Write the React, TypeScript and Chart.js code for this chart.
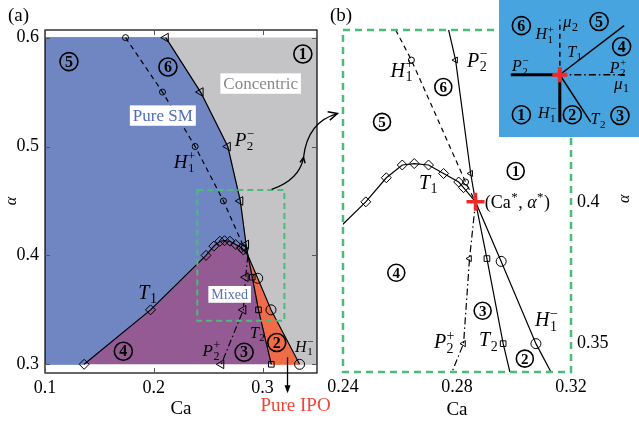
import React, { useEffect, useRef } from 'react';
import { Chart, registerables } from 'chart.js';
Chart.register(...registerables);

type Pt = [number, number];

// ---------- axis ranges / ticks ----------
const CA_MIN_A = 0.1, CA_MAX_A = 0.35, AL_MIN_A = 0.292, AL_MAX_A = 0.607;
const REG_CA_MIN = 0.1, REG_CA_MAX = 0.35, REG_AL_MIN = 0.3, REG_AL_MAX = 0.6;
const CA_TICKS_A = [0.1, 0.2, 0.3];
const AL_TICKS_A = [0.3, 0.4, 0.5, 0.6];
const CA_MIN_B = 0.24, CA_MAX_B = 0.32, AL_MIN_B = 0.34, AL_MAX_B = 0.4606;
const CA_TICKS_B = [0.24, 0.28, 0.32];
const AL_TICKS_B = [0.35, 0.4];

// ---------- bifurcation curves (Ca, alpha) ----------
const CRIT: Pt = [0.2865, 0.4];
const T1: Pt[] = [[0.136, 0.3], [0.197, 0.35], [0.248, 0.4], [0.2552, 0.4085], [0.2608, 0.413], [0.265, 0.4135], [0.27, 0.413], [0.2753, 0.41], [0.2806, 0.407], [0.2823, 0.405], [0.2865, 0.4]];
const H1_PLUS: Pt[] = [[0.174, 0.6], [0.208, 0.55], [0.238, 0.5], [0.264, 0.45], [0.283, 0.407], [0.2865, 0.4]];
const P2_MINUS: Pt[] = [[0.211, 0.6], [0.243, 0.55], [0.268, 0.5], [0.2795, 0.45], [0.2848, 0.41], [0.2865, 0.4]];
const P2_PLUS: Pt[] = [[0.2865, 0.4], [0.2844, 0.38], [0.2823, 0.35], [0.262, 0.3]];
const T2: Pt[] = [[0.2865, 0.4], [0.2905, 0.38], [0.2962, 0.35], [0.308, 0.3]];
const H1_MINUS: Pt[] = [[0.2865, 0.4], [0.2955, 0.379], [0.3077, 0.35], [0.334, 0.3]];

// ---------- inset normal form (mu1, mu2) ----------
const IN_MU1_MIN = -59, IN_MU1_MAX = 81, IN_MU2_MIN = -61, IN_MU2_MAX = 76;
const IN_ORIGIN: Pt = [0, 0];
const IN_H1_PLUS: Pt[] = [[0, 0], [0, 66]];
const IN_P2_MINUS: Pt[] = [[-59, 0], [0, 0]];
const IN_P2_PLUS: Pt[] = [[0, 0], [81, 0]];
const IN_T1: Pt[] = [[0, 0], [77, 59]];
const IN_H1_MINUS: Pt[] = [[0, 0], [0, -57]];
const IN_T2: Pt[] = [[0, 0], [37, -57]];

// ---------- colours ----------
const C_BLUE = '#6f86c3';
const C_GRAY = '#c4c3c5';
const C_PURPLE = '#935a93';
const C_ORANGE = '#f06c48';
const C_INSET = '#47a4de';
const C_GREEN = '#4dbb78';
const C_RED = '#f02a2a';
const SERIF = '"Liberation Serif", "DejaVu Serif", serif';

Chart.defaults.font.family = SERIF;
Chart.defaults.color = '#000';

type Part = [string, string, string?];
type MathLabel = { parts: Part[]; x: number; y: number; size: number; align?: 'left' | 'center' };
type Circ = { n: string; x: number; y: number };

const H1P: Part[] = [['i', 'H'], ['ss', '1', '+']];
const H1M: Part[] = [['i', 'H'], ['ss', '1', '\u2212']];
const P2P: Part[] = [['i', 'P'], ['ss', '2', '+']];
const P2M: Part[] = [['i', 'P'], ['ss', '2', '\u2212']];
const T1L: Part[] = [['i', 'T'], ['sub', '1']];
const T2L: Part[] = [['i', 'T'], ['sub', '2']];

// annotation placement (data units of each panel)
const A_CIRC: Circ[] = [
  { n: '5', x: 0.122, y: 0.578 }, { n: '6', x: 0.213, y: 0.573 }, { n: '1', x: 0.337, y: 0.585 },
  { n: '4', x: 0.172, y: 0.312 }, { n: '3', x: 0.283, y: 0.311 }, { n: '2', x: 0.313, y: 0.32 },
];
const A_MATH: MathLabel[] = [
  { parts: T1L, x: 0.1945, y: 0.366, size: 20 },
  { parts: H1P, x: 0.2284, y: 0.4862, size: 19 },
  { parts: P2M, x: 0.2835, y: 0.5064, size: 19 },
  { parts: P2P, x: 0.2532, y: 0.3128, size: 17 },
  { parts: T2L, x: 0.2954, y: 0.3294, size: 16 },
  { parts: H1M, x: 0.3385, y: 0.3165, size: 16 },
];
const B_CIRC: Circ[] = [
  { n: '5', x: 0.2537, y: 0.4282 }, { n: '6', x: 0.2752, y: 0.4405 }, { n: '1', x: 0.3006, y: 0.4109 },
  { n: '4', x: 0.2587, y: 0.375 }, { n: '3', x: 0.289, y: 0.3616 }, { n: '2', x: 0.3038, y: 0.3447 },
];
const B_MATH: MathLabel[] = [
  { parts: H1P, x: 0.2608, y: 0.4465, size: 20 },
  { parts: P2M, x: 0.2872, y: 0.45, size: 20 },
  { parts: T1L, x: 0.27, y: 0.407, size: 20 },
  { parts: [['n', '(Ca'], ['sup', '*'], ['n', ', '], ['i', '\u03b1'], ['sup', '*'], ['n', ')']], x: 0.2897, y: 0.4, size: 18, align: 'left' },
  { parts: P2P, x: 0.2756, y: 0.3507, size: 20 },
  { parts: T2L, x: 0.2911, y: 0.3514, size: 20 },
  { parts: H1M, x: 0.3115, y: 0.3585, size: 20 },
];
const IN_CIRC: Circ[] = [
  { n: '6', x: -46, y: 59 }, { n: '5', x: 47, y: 64 }, { n: '4', x: 74, y: 34 },
  { n: '1', x: -46, y: -48 }, { n: '2', x: 15, y: -48 }, { n: '3', x: 72, y: -49 },
];
const IN_MATH: MathLabel[] = [
  { parts: H1P, x: -18, y: 49, size: 16 },
  { parts: [['i', '\u03bc'], ['sub', '2']], x: 13, y: 64, size: 17 },
  { parts: T1L, x: 18, y: 28, size: 16 },
  { parts: P2P, x: 70, y: 9, size: 16 },
  { parts: [['i', '\u03bc'], ['sub', '1']], x: 74, y: -10, size: 17 },
  { parts: P2M, x: -47, y: 11, size: 16 },
  { parts: H1M, x: -15, y: -46, size: 16 },
  { parts: T2L, x: 46, y: -53, size: 16 },
];

// ---------- helpers ----------
const xy = (a: Pt[]) => a.map(([x, y]) => ({ x, y }));
const fmt = (v: any) => String(Number(Number(v).toFixed(3)));

function drawMath(ctx: CanvasRenderingContext2D, x: number, y: number, parts: Part[], size: number, align: 'left' | 'center' = 'center', color = '#000') {
  const small = Math.round(size * 0.7);
  const fontOf = (k: string) => (k === 'i' ? `italic ${size}px ${SERIF}` : k === 'n' ? `${size}px ${SERIF}` : `${small}px ${SERIF}`);
  const widths = parts.map(([k, a, b]) => {
    ctx.font = fontOf(k);
    const w = ctx.measureText(a).width;
    const w2 = b ? ctx.measureText(b).width : 0;
    return k === 'n' || k === 'i' ? w : Math.max(w, w2) + 1;
  });
  const total = widths.reduce((s, w) => s + w, 0);
  let cx = align === 'center' ? x - total / 2 : x;
  const base = y + size * 0.33;
  ctx.save();
  ctx.fillStyle = color;
  ctx.textAlign = 'left';
  ctx.textBaseline = 'alphabetic';
  parts.forEach(([k, a, b], i) => {
    ctx.font = fontOf(k);
    if (k === 'n' || k === 'i') ctx.fillText(a, cx, base);
    else if (k === 'sup') ctx.fillText(a, cx + 0.5, base - size * 0.4);
    else if (k === 'sub') ctx.fillText(a, cx + 0.5, base + size * 0.22);
    else {
      ctx.fillText(a, cx + 0.5, base + size * 0.24);
      if (b) ctx.fillText(b, cx + 0.5, base - size * 0.42);
    }
    cx += widths[i];
  });
  ctx.restore();
}

function circled(ctx: CanvasRenderingContext2D, x: number, y: number, n: string, r: number) {
  ctx.save();
  ctx.beginPath();
  ctx.arc(x, y, r, 0, Math.PI * 2);
  ctx.lineWidth = 1.6;
  ctx.strokeStyle = '#000';
  ctx.stroke();
  ctx.font = `bold ${Math.round(r * 1.75)}px ${SERIF}`;
  ctx.textAlign = 'center';
  ctx.textBaseline = 'middle';
  ctx.fillStyle = '#000';
  ctx.fillText(n, x, y + 1);
  ctx.restore();
}

function boxed(ctx: CanvasRenderingContext2D, x: number, y: number, text: string, size: number, color: string) {
  ctx.save();
  ctx.font = `${size}px ${SERIF}`;
  const w = ctx.measureText(text).width;
  ctx.fillStyle = '#fff';
  ctx.fillRect(x - w / 2 - 3, y - size * 0.6, w + 6, size * 1.2);
  ctx.fillStyle = color;
  ctx.textAlign = 'center';
  ctx.textBaseline = 'middle';
  ctx.fillText(text, x, y + 1);
  ctx.restore();
}

function arrowHead(ctx: CanvasRenderingContext2D, x0: number, y0: number, x1: number, y1: number, len: number) {
  const ang = Math.atan2(y1 - y0, x1 - x0);
  ctx.beginPath();
  ctx.moveTo(x1 - len * Math.cos(ang - 0.45), y1 - len * Math.sin(ang - 0.45));
  ctx.lineTo(x1, y1);
  ctx.lineTo(x1 - len * Math.cos(ang + 0.45), y1 - len * Math.sin(ang + 0.45));
  ctx.stroke();
}

function alphaTitle(ctx: CanvasRenderingContext2D, x: number, y: number) {
  ctx.save();
  ctx.translate(x, y);
  ctx.rotate(-Math.PI / 2);
  ctx.font = `italic 16px ${SERIF}`;
  ctx.textAlign = 'center';
  ctx.textBaseline = 'middle';
  ctx.fillStyle = '#000';
  ctx.fillText('\u03b1', 0, 0);
  ctx.restore();
}

type Opt = { dash?: number[]; style?: any; r?: number; rot?: number; skip?: number[]; width?: number; color?: string };
function curve(data: Pt[], o: Opt) {
  const skip = o.skip || [];
  const r = o.r || 0;
  return {
    data: xy(data),
    showLine: true,
    fill: false,
    borderColor: o.color || '#000',
    borderWidth: o.width || 1.2,
    borderDash: o.dash || [],
    backgroundColor: 'rgba(0,0,0,0)',
    pointBackgroundColor: 'rgba(0,0,0,0)',
    pointBorderColor: '#000',
    pointBorderWidth: 1,
    pointStyle: o.style || 'circle',
    pointRotation: o.rot || 0,
    pointRadius: (c: any) => (skip.includes(c.dataIndex) ? 0 : r),
    tension: 0,
    order: 1,
  };
}
function region(poly: Pt[], color: string) {
  return {
    data: xy(poly),
    showLine: true,
    fill: 'shape',
    backgroundColor: color,
    borderColor: color,
    borderWidth: 1,
    pointRadius: 0,
    tension: 0,
    order: 10,
  };
}
function critPoint(p: Pt, r: number, w: number) {
  return {
    data: xy([p]),
    showLine: false,
    pointStyle: 'cross',
    pointRadius: r,
    pointBorderColor: C_RED,
    borderColor: C_RED,
    pointBorderWidth: w,
    borderWidth: w,
    order: 0,
  };
}

function curveSets(big: boolean) {
  const tri = big ? 5 : 3.5;
  return [
    curve(T1, { style: 'rectRot', r: 5, skip: [T1.length - 1] }),
    curve(H1_PLUS, { dash: [5, 4], r: 3, skip: [H1_PLUS.length - 1] }),
    curve(P2_MINUS, { style: 'triangle', rot: -90, r: tri, skip: [P2_MINUS.length - 1] }),
    curve(P2_PLUS, { dash: [7, 3, 1.5, 3], style: 'triangle', rot: -90, r: tri, skip: [0] }),
    curve(T2, { style: 'rect', r: 4, skip: [0] }),
    curve(H1_MINUS, { r: 5, skip: [0] }),
  ];
}

const rev = (a: Pt[]) => a.slice().reverse();

function baseScale(min: number, max: number, ticks: number[], size: number, horizontal: boolean, pos: string) {
  return {
    type: 'linear',
    position: pos,
    min,
    max,
    afterBuildTicks: (s: any) => { s.ticks = ticks.map((v) => ({ value: v })); },
    ticks: { callback: (v: any) => fmt(v), font: { size: 18 }, color: '#000', padding: horizontal ? 4 : 6, maxRotation: 0, autoSkip: false },
    grid: { display: false, drawTicks: false },
    border: { display: false },
    afterFit: (s: any) => { if (horizontal) s.height = size; else s.width = size; },
  };
}

export default function App() {
  const refA = useRef<HTMLCanvasElement>(null);
  const refB = useRef<HTMLCanvasElement>(null);
  const refC = useRef<HTMLCanvasElement>(null);

  useEffect(() => {
    // ---------------- panel (a) ----------------
    const blue: Pt[] = [[REG_CA_MIN, REG_AL_MIN], ...T1, ...rev(P2_MINUS), [REG_CA_MIN, REG_AL_MAX]];
    const gray: Pt[] = [...P2_MINUS, ...H1_MINUS, [REG_CA_MAX, REG_AL_MIN], [REG_CA_MAX, REG_AL_MAX]];
    const purple: Pt[] = [...T1, ...T2];
    const orange: Pt[] = [...T2, ...rev(H1_MINUS)];

    const annA = {
      id: 'annA',
      afterDraw(chart: any) {
        const { ctx, chartArea: ca, scales } = chart;
        const X = (v: number) => scales.x.getPixelForValue(v);
        const Y = (v: number) => scales.y.getPixelForValue(v);
        ctx.save();
        ctx.strokeStyle = '#000';
        ctx.lineWidth = 1.2;
        ctx.strokeRect(ca.left, ca.top, ca.right - ca.left, ca.bottom - ca.top);
        ctx.strokeStyle = '#555';
        ctx.lineWidth = 1;
        CA_TICKS_A.forEach((v) => {
          const x = Math.round(X(v)) + 0.5;
          ctx.beginPath(); ctx.moveTo(x, ca.bottom); ctx.lineTo(x, ca.bottom - 5); ctx.stroke();
          ctx.beginPath(); ctx.moveTo(x, ca.top); ctx.lineTo(x, ca.top + 5); ctx.stroke();
        });
        AL_TICKS_A.forEach((v) => {
          const y = Math.round(Y(v)) + 0.5;
          ctx.beginPath(); ctx.moveTo(ca.left, y); ctx.lineTo(ca.left + 5, y); ctx.stroke();
          ctx.beginPath(); ctx.moveTo(ca.right, y); ctx.lineTo(ca.right - 5, y); ctx.stroke();
        });
        // zoom box
        ctx.strokeStyle = C_GREEN;
        ctx.lineWidth = 2;
        ctx.setLineDash([6, 4]);
        ctx.strokeRect(X(CA_MIN_B), Y(AL_MAX_B - 0.0006), X(CA_MAX_B) - X(CA_MIN_B), Y(AL_MIN_B) - Y(AL_MAX_B - 0.0006));
        ctx.setLineDash([]);
        // curved arrow to panel (b)
        ctx.strokeStyle = '#000';
        ctx.lineWidth = 1.3;
        ctx.beginPath();
        ctx.moveTo(X(0.3083), Y(0.4606));
        ctx.quadraticCurveTo(X(0.3339), Y(0.4697), X(0.3376), Y(0.4899));
        ctx.quadraticCurveTo(X(0.3413), Y(0.5229), X(0.3688), Y(0.5303));
        ctx.stroke();
        ctx.lineWidth = 1.5;
        arrowHead(ctx, X(0.3413), Y(0.5229), X(0.3688), Y(0.5303), 10);
        arrowHead(ctx, X(0.3339), Y(0.4697), X(0.3376), Y(0.4899), 6);
        // Pure IPO arrow
        ctx.lineWidth = 1.3;
        const ax = X(0.3229);
        ctx.beginPath(); ctx.moveTo(ax, Y(0.3064)); ctx.lineTo(ax, Y(0.2752)); ctx.stroke();
        ctx.fillStyle = '#000';
        ctx.beginPath();
        ctx.moveTo(ax, Y(0.2752) + 2);
        ctx.lineTo(ax - 3, Y(0.2752) - 6);
        ctx.lineTo(ax + 3, Y(0.2752) - 6);
        ctx.closePath(); ctx.fill();
        ctx.font = `19px ${SERIF}`;
        ctx.fillStyle = '#f0463a';
        ctx.textAlign = 'center';
        ctx.textBaseline = 'middle';
        ctx.fillText('Pure IPO', X(0.3303), Y(0.2615));
        ctx.fillStyle = '#000';
        ctx.font = `19px ${SERIF}`;
        ctx.textAlign = 'left';
        ctx.textBaseline = 'alphabetic';
        ctx.fillText('(a)', 8, 21);
        ctx.restore();
        alphaTitle(ctx, ca.left - 33, Y(0.45));
        boxed(ctx, X(0.2982), Y(0.5578), 'Concentric', 17, '#8a8a8a');
        boxed(ctx, X(0.2083), Y(0.5284), 'Pure SM', 17, '#4f6cb8');
        boxed(ctx, X(0.2697), Y(0.3642), 'Mixed', 14, '#5a72b8');
        A_CIRC.forEach((c) => circled(ctx, X(c.x), Y(c.y), c.n, 9));
        A_MATH.forEach((m) => drawMath(ctx, X(m.x), Y(m.y), m.parts, m.size, m.align));
      },
    };

    const chartA = new Chart(refA.current!, {
      type: 'scatter',
      data: {
        datasets: [
          ...curveSets(true),
          region(blue, C_BLUE),
          region(gray, C_GRAY),
          region(purple, C_PURPLE),
          region(orange, C_ORANGE),
        ] as any,
      },
      options: {
        responsive: false,
        animation: false,
        events: [],
        layout: { padding: { left: 0, right: 28, top: 30, bottom: 0 } },
        plugins: { legend: { display: false }, tooltip: { enabled: false } },
        scales: {
          x: { ...baseScale(CA_MIN_A, CA_MAX_A, CA_TICKS_A, 53, true, 'bottom'), title: { display: true, text: 'Ca', font: { size: 19 }, color: '#000', padding: { top: 0, bottom: 6 } } },
          y: baseScale(AL_MIN_A, AL_MAX_A, AL_TICKS_A, 45, false, 'left'),
        } as any,
      },
      plugins: [annA],
    } as any);

    // ---------------- panel (b) ----------------
    const annB = {
      id: 'annB',
      afterDraw(chart: any) {
        const { ctx, chartArea: ca, scales } = chart;
        const X = (v: number) => scales.x.getPixelForValue(v);
        const Y = (v: number) => scales.y.getPixelForValue(v);
        ctx.save();
        ctx.strokeStyle = C_GREEN;
        ctx.lineWidth = 2.5;
        ctx.setLineDash([7, 5]);
        ctx.strokeRect(ca.left, ca.top, ca.right - ca.left, ca.bottom - ca.top);
        ctx.setLineDash([]);
        ctx.fillStyle = '#000';
        ctx.font = `19px ${SERIF}`;
        ctx.textAlign = 'left';
        ctx.textBaseline = 'alphabetic';
        ctx.fillText('(b)', 10, 21);
        ctx.restore();
        alphaTitle(ctx, ca.right + 54, Y(0.4) - 3);
        B_CIRC.forEach((c) => circled(ctx, X(c.x), Y(c.y), c.n, 8.5));
        B_MATH.forEach((m) => drawMath(ctx, X(m.x), Y(m.y), m.parts, m.size, m.align));
      },
    };

    const chartB = new Chart(refB.current!, {
      type: 'scatter',
      data: { datasets: [critPoint(CRIT, 9, 3.5), ...curveSets(false)] as any },
      options: {
        responsive: false,
        animation: false,
        events: [],
        layout: { padding: { left: 23, right: 0, top: 30, bottom: 0 } },
        plugins: { legend: { display: false }, tooltip: { enabled: false } },
        scales: {
          x: { ...baseScale(CA_MIN_B, CA_MAX_B, CA_TICKS_B, 54, true, 'bottom'), title: { display: true, text: 'Ca', font: { size: 19 }, color: '#000', padding: { top: 0, bottom: 5 } } },
          y: baseScale(AL_MIN_B, AL_MAX_B, AL_TICKS_B, 68, false, 'right'),
        } as any,
      },
      plugins: [annB],
    } as any);

    // ---------------- inset ----------------
    const annC = {
      id: 'annC',
      beforeDraw(chart: any) {
        const { ctx, width, height } = chart;
        ctx.save();
        ctx.fillStyle = C_INSET;
        ctx.fillRect(0, 0, width, height);
        ctx.restore();
      },
      afterDraw(chart: any) {
        const { ctx, scales } = chart;
        const X = (v: number) => scales.x.getPixelForValue(v);
        const Y = (v: number) => scales.y.getPixelForValue(v);
        IN_CIRC.forEach((c) => circled(ctx, X(c.x), Y(c.y), c.n, 9));
        IN_MATH.forEach((m) => drawMath(ctx, X(m.x), Y(m.y), m.parts, m.size, m.align));
      },
    };
    const chartC = new Chart(refC.current!, {
      type: 'scatter',
      data: {
        datasets: [
          critPoint(IN_ORIGIN, 7.5, 4),
          curve(IN_H1_PLUS, { dash: [5, 4], width: 1.5 }),
          curve(IN_P2_MINUS, { width: 3 }),
          curve(IN_P2_PLUS, { dash: [7, 3, 1.5, 3], width: 1.5 }),
          curve(IN_T1, { width: 1.5 }),
          curve(IN_H1_MINUS, { width: 3 }),
          curve(IN_T2, { width: 1.5 }),
        ] as any,
      },
      options: {
        responsive: false,
        animation: false,
        events: [],
        layout: { padding: 0 },
        plugins: { legend: { display: false }, tooltip: { enabled: false } },
        scales: {
          x: { type: 'linear', min: IN_MU1_MIN, max: IN_MU1_MAX, display: false },
          y: { type: 'linear', min: IN_MU2_MIN, max: IN_MU2_MAX, display: false },
        },
      },
      plugins: [annC],
    } as any);

    return () => {
      chartA.destroy();
      chartB.destroy();
      chartC.destroy();
    };
  }, []);

  return (
    <div style={{ position: 'fixed', left: 0, top: 0, width: 639, height: 426, background: '#fff', overflow: 'hidden' }}>
      <canvas ref={refA} width={345} height={426} style={{ position: 'absolute', left: 0, top: 0 }} />
      <canvas ref={refB} width={319} height={426} style={{ position: 'absolute', left: 320, top: 0 }} />
      <canvas ref={refC} width={140} height={137} style={{ position: 'absolute', left: 499, top: 0 }} />
    </div>
  );
}
